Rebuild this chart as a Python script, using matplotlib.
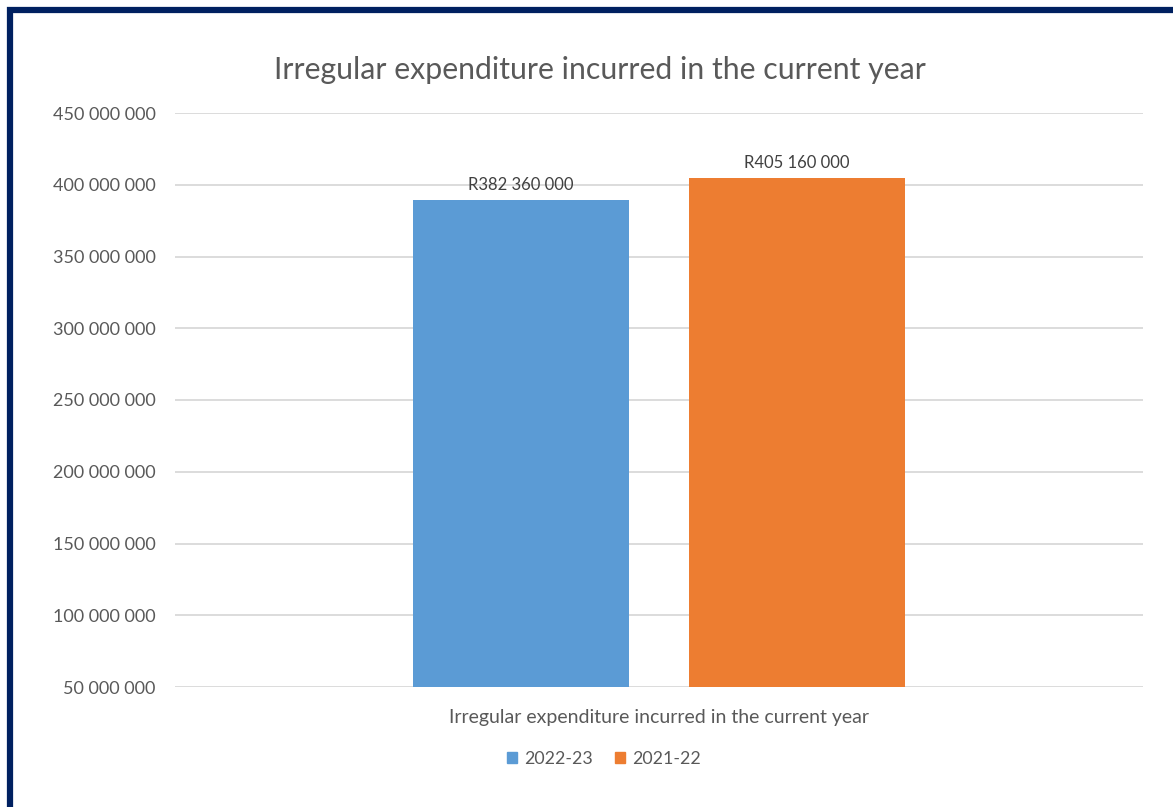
import matplotlib.pyplot as plt
import matplotlib.patches as mpatches

# Data
series = ["2022-23", "2021-22"]
values = [389_400_000, 404_900_000]
value_labels = ["R382 360 000", "R405 160 000"]
category = "Irregular expenditure incurred in the current year"
colors = ["#5B9BD5", "#ED7D31"]
yticks = [50_000_000, 100_000_000, 150_000_000, 200_000_000, 250_000_000,
          300_000_000, 350_000_000, 400_000_000, 450_000_000]

plt.rcParams['font.family'] = ['Lato', 'DejaVu Sans']
text_color = "#595959"

W, H = 1173, 807
fig = plt.figure(figsize=(W / 100, H / 100), dpi=100)

# Plot area
ax = fig.add_axes([175 / W, (H - 687) / H, 968 / W, (687 - 113) / H])
ax.set_xlim(-0.5, 0.5)
ax.set_ylim(yticks[0], yticks[-1])

offsets = [-0.1425, 0.1425]
bar_w = 0.224
for i, (s, v, c) in enumerate(zip(series, values, colors)):
    bars = ax.bar(offsets[i], v, width=bar_w, color=c, label=s, zorder=2)
    ax.bar_label(bars, labels=[value_labels[i]], padding=5, fontsize=12,
                 color="#404040")

ax.set_yticks(yticks)
ax.set_yticklabels([f"{t:,}".replace(",", " ") for t in yticks],
                   fontsize=13, color=text_color)
ax.set_xticks([0])
ax.set_xticklabels([category], fontsize=14, color=text_color)
ax.tick_params(axis='y', length=0, pad=14)
ax.tick_params(axis='x', length=0, pad=16)
ax.grid(axis='y', color="#d9d9d9", linewidth=1.3, zorder=0)
for sp in ax.spines.values():
    sp.set_visible(False)

# Title
fig.text(600 / W, 1 - 70 / H, "Irregular expenditure incurred in the current year",
         ha='center', va='center', fontsize=21.8, color=text_color)

# Legend
handles = [mpatches.Patch(color=c, label=s) for s, c in zip(series, colors)]
fig.legend(handles=handles, loc='center', bbox_to_anchor=(604 / W, 1 - 759 / H),
           ncol=2, frameon=False, fontsize=12.8, handlelength=0.6,
           handleheight=0.6, handletextpad=0.4, columnspacing=1.2,
           labelcolor=text_color)

# Dark border (top and left edges visible; frame continues past the crop)
fig.add_artist(mpatches.Rectangle((10 / W, -0.1), 1.2, 1 - 10 / H + 0.1,
                                  transform=fig.transFigure, fill=False,
                                  edgecolor="#002060", linewidth=4.5))

fig.savefig("out.png", dpi=100)
